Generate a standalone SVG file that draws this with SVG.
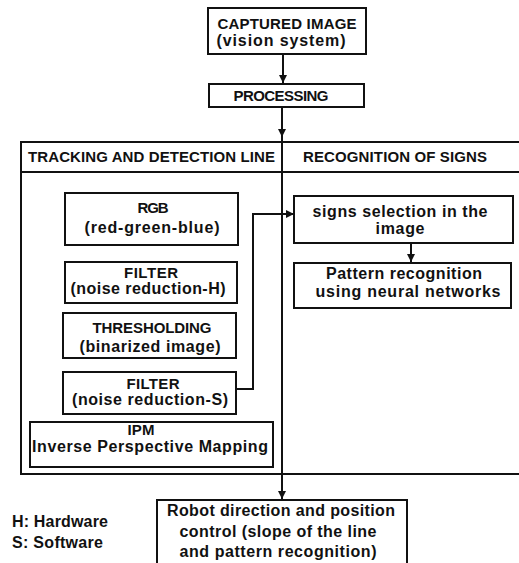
<svg xmlns="http://www.w3.org/2000/svg" width="519" height="563" viewBox="0 0 519 563">
  <style>
    .box { fill: #fff; stroke: #111; stroke-width: 2; }
    .frame { fill: none; stroke: #111; stroke-width: 2; }
    .wire { fill: none; stroke: #111; stroke-width: 2; }
    text { font-family: "Liberation Sans", Arial, sans-serif; font-weight: bold; font-size: 16px; fill: #111; }
    .caps { font-size: 15px; }
    .c { text-anchor: middle; }
  </style>
  <defs>
    <marker id="arrow" viewBox="0 0 8 8" refX="8" refY="4" markerWidth="4" markerHeight="4" orient="auto" markerUnits="strokeWidth">
      <path d="M0,0 L8,4 L0,8 Z" fill="#111"/>
    </marker>
  </defs>
  <rect width="519" height="563" fill="#fff"/>

  <!-- outer frame with two lanes -->
  <g id="lanes">
    <rect class="frame" x="21" y="142" width="510" height="332"/>
    <line class="frame" x1="21" y1="172" x2="531" y2="172"/>
    <text x="28" y="162" class="caps" textLength="247">TRACKING AND DETECTION LINE</text>
    <text x="303" y="162" class="caps" textLength="184">RECOGNITION OF SIGNS</text>
  </g>

  <g id="connectors">
    <line class="wire" x1="283" y1="54" x2="283" y2="83" marker-end="url(#arrow)"/>
    <line class="wire" x1="282" y1="107" x2="282" y2="137" marker-end="url(#arrow)"/>
    <line class="wire" x1="282" y1="137" x2="282" y2="499" marker-end="url(#arrow)"/>
    <polyline class="wire" points="236,389 253,389 253,214 294,214" marker-end="url(#arrow)"/>
    <line class="wire" x1="411" y1="243" x2="411" y2="262" marker-end="url(#arrow)"/>
  </g>

  <g id="captured">
    <rect class="box" x="208" y="8" width="158" height="46"/>
    <text x="287" y="29" class="c caps" textLength="139">CAPTURED IMAGE</text>
    <text x="281" y="46" class="c" textLength="129">(vision system)</text>
  </g>

  <g id="processing">
    <rect class="box" x="209" y="84" width="155" height="23"/>
    <text x="281" y="101" class="c caps" textLength="95">PROCESSING</text>
  </g>

  <g id="rgb">
    <rect class="box" x="65" y="193" width="173" height="52"/>
    <text x="153" y="213" class="c caps" textLength="31">RGB</text>
    <text x="152" y="233" class="c" textLength="135">(red-green-blue)</text>
  </g>

  <g id="filter-h">
    <rect class="box" x="65" y="262" width="172" height="41"/>
    <text x="151" y="278" class="c caps" textLength="54">FILTER</text>
    <text x="148" y="294" class="c" textLength="155">(noise reduction-H)</text>
  </g>

  <g id="thresholding">
    <rect class="box" x="63" y="313" width="173" height="45"/>
    <text x="152" y="333" class="c caps" textLength="119">THRESHOLDING</text>
    <text x="150" y="352" class="c" textLength="141">(binarized image)</text>
  </g>

  <g id="filter-s">
    <rect class="box" x="63" y="372" width="173" height="42"/>
    <text x="153" y="389" class="c caps" textLength="53">FILTER</text>
    <text x="150" y="405" class="c" textLength="156">(noise reduction-S)</text>
  </g>

  <g id="ipm">
    <rect class="box" x="30" y="422" width="243" height="45"/>
    <text x="141" y="435" class="c caps" textLength="27">IPM</text>
    <text x="150" y="452" class="c" textLength="236">Inverse Perspective Mapping</text>
  </g>

  <g id="signs-selection">
    <rect class="box" x="294" y="196" width="219" height="47"/>
    <text x="400" y="217" class="c" textLength="175">signs selection in the</text>
    <text x="400" y="234" class="c" textLength="49">image</text>
  </g>

  <g id="pattern-recognition">
    <rect class="box" x="294" y="263" width="217" height="45"/>
    <text x="404" y="279" class="c" textLength="156">Pattern recognition</text>
    <text x="408" y="297" class="c" textLength="185">using neural networks</text>
  </g>

  <g id="robot-control">
    <rect class="box" x="157" y="500" width="250" height="70"/>
    <text x="281" y="516" class="c" textLength="228">Robot direction and position</text>
    <text x="278" y="537" class="c" textLength="197">control (slope of the line</text>
    <text x="278" y="557" class="c" textLength="197">and pattern recognition)</text>
  </g>

  <g id="legend">
    <text x="12" y="527" textLength="96">H: Hardware</text>
    <text x="12" y="548" textLength="91">S: Software</text>
  </g>
</svg>
